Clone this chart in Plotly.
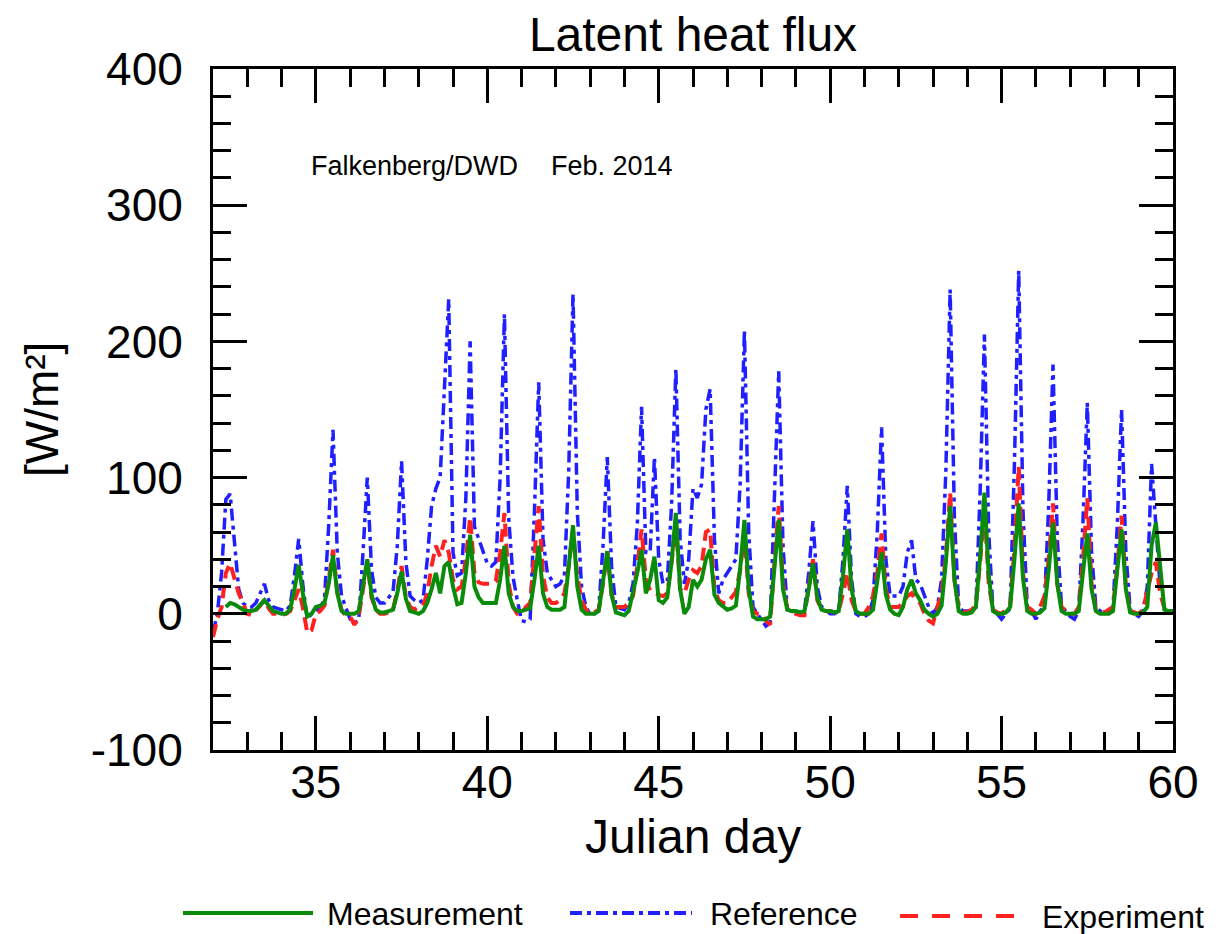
import numpy as np
import plotly.graph_objects as go

# ---------------- data ----------------
# Julian days covered; 8 samples per day (every 3 hours)
DAYS = list(range(32, 60))
HOURS = [0, 3, 6, 9, 12, 15, 18, 21]
END_DAY = 60.0

nan = None

# Measurement (green, solid) [W/m^2]
MEAS = [
    nan, nan, nan, 5, 8, 7, 5, 3,          # 32
    2, 2, 3, 6, 10, 6, 2, 1,               # 33
    0, 0, 3, 18, 36, 14, -2, 0,            # 34
    5, 6, 8, 22, 43, 15, 2, 0,             # 35
    0, 0, 2, 20, 40, 14, 3, 1,             # 36
    1, 2, 3, 15, 31, 11, 2, 1,             # 37
    0, 2, 8, 18, 30, 15, 35, 38,           # 38
    20, 7, 8, 30, 58, 20, 12, 8,           # 39
    8, 8, 8, 25, 50, 15, 5, 2,             # 40
    2, 3, 4, 25, 50, 15, 5, 3,             # 41
    3, 3, 5, 32, 65, 20, 3, 0,             # 42
    0, 0, 2, 22, 46, 14, 1, 0,             # 43
    -1, 2, 15, 30, 47, 15, 25, 42,         # 44
    10, 8, 12, 38, 74, 18, 0, 5,           # 45
    25, 20, 25, 40, 47, 14, 8, 5,          # 46
    3, 4, 6, 33, 69, 18, -2, -4,           # 47
    -4, -4, -2, 33, 69, 18, 3, 2,          # 48
    2, 1, 2, 18, 37, 12, 3, 2,             # 49
    2, 1, 2, 28, 62, 18, 2, 0,             # 50
    0, 0, 3, 22, 45, 14, 3, 0,             # 51
    -1, 5, 18, 25, 15, 10, 3, 0,           # 52
    -2, 0, 6, 38, 79, 25, 2, 0,            # 53
    0, 1, 5, 42, 89, 28, 2, 0,             # 54
    0, 1, 5, 40, 81, 26, 2, 0,             # 55
    0, 1, 4, 32, 67, 22, 2, 0,             # 56
    0, 0, 2, 28, 59, 18, 2, 0,             # 57
    0, 0, 2, 30, 62, 18, 1, 0,             # 58
    0, 1, 5, 50, 67, 35, 3, 2,             # 59
    2,                                     # 60.0
]

# Reference (blue, dash-dot) [W/m^2]
REF = [
    -14, 0, 30, 84, 88, 54, 18, 8,         # 32
    5, 5, 8, 15, 22, 10, 5, 4,             # 33
    3, 2, 6, 28, 55, 20, -4, 0,            # 34
    2, 5, 10, 65, 135, 45, 13, 5,          # 35
    -4, -7, -5, 45, 100, 32, 12, 8,        # 36
    8, 12, 16, 50, 112, 38, 13, 10,        # 37
    8, 10, 40, 79, 92, 100, 170, 231,      # 38
    45, 28, 30, 85, 200, 64, 55, 45,       # 39
    37, 35, 38, 100, 220, 70, 27, 10,      # 40
    -5, -6, -4, 75, 170, 55, 30, 25,       # 41
    20, 22, 28, 105, 235, 75, 20, 5,       # 42
    0, 0, 3, 50, 115, 35, 5, 4,            # 43
    3, 8, 22, 65, 152, 45, 45, 115,        # 44
    40, 22, 24, 80, 180, 55, 22, 40,       # 45
    92, 85, 95, 150, 165, 55, 15, 25,      # 46
    30, 35, 40, 95, 208, 60, 5, 0,         # 47
    -5, -9, -7, 80, 178, 50, 3, 2,         # 48
    0, 0, 2, 30, 68, 20, 5, 3,             # 49
    0, 0, 2, 40, 94, 25, 0, -2,            # 50
    -2, 0, 10, 60, 137, 40, 13, 13,        # 51
    13, 20, 45, 54, 25, 22, 13, 5,         # 52
    0, 5, 25, 105, 238, 70, 5, 2,          # 53
    2, 2, 3, 90, 205, 60, 2, 0,            # 54
    -4, 0, 4, 110, 252, 75, 5, 2,          # 55
    -4, 2, 6, 80, 183, 55, 5, 2,           # 56
    -2, -4, 2, 68, 155, 45, 5, 2,          # 57
    0, 2, 4, 65, 150, 45, 3, 0,            # 58
    -2, 2, 20, 110, 60, 20, nan, nan,      # 59
    nan,                                   # 60.0
]

# Experiment (red, dashed) [W/m^2]
EXP = [
    -17, -4, 5, 30, 37, 25, 15, 8,         # 32
    0, -1, 2, 6, 10, 4, 0, 0,              # 33
    -1, 0, 2, 10, 18, 4, -14, -12,         # 34
    0, 2, 6, 25, 47, 16, 3, -2,            # 35
    -2, -8, -2, 18, 37, 12, 3, 0,          # 36
    0, 1, 3, 17, 35, 12, 5, 3,             # 37
    5, 6, 15, 35, 50, 42, 54, 45,          # 38
    25, 18, 20, 40, 71, 30, 23, 22,        # 39
    22, 22, 24, 45, 74, 22, 5, 0,          # 40
    0, 5, 8, 40, 79, 28, 12, 8,            # 41
    8, 10, 15, 35, 62, 28, 10, 3,          # 42
    0, 1, 3, 22, 46, 14, 5, 5,             # 43
    5, 8, 13, 35, 62, 25, 17, 15,          # 44
    14, 13, 15, 38, 67, 18, 15, 25,        # 45
    32, 30, 35, 60, 62, 18, 10, 8,         # 46
    8, 12, 16, 32, 59, 15, 2, 0,           # 47
    0, -5, -8, 38, 79, 22, 4, 1,           # 48
    0, -1, -1, 20, 40, 10, 3, 2,           # 49
    2, 1, 2, 15, 30, 10, 2, 0,             # 50
    0, 5, 13, 30, 59, 18, 5, 5,            # 51
    5, 8, 13, 15, 10, 8, 0, -5,            # 52
    -7, 5, 15, 42, 89, 25, 5, 2,           # 53
    1, 3, 6, 38, 79, 22, 3, 1,             # 54
    0, 3, 6, 48, 108, 30, 5, 3,            # 55
    0, 5, 13, 40, 81, 22, 5, 2,            # 56
    0, 0, 5, 40, 85, 22, 3, 2,             # 57
    1, 3, 5, 35, 72, 20, 2, 1,             # 58
    0, 3, 18, 30, 38, 15, 4, 4,            # 59
    4,                                     # 60.0
]

SERIES_NAMES = ["Measurement", "Reference", "Experiment"]
TITLE = "Latent heat flux"
XTITLE = "Julian day"
YTITLE = "[W/m²]"
NOTE_LEFT = "Falkenberg/DWD"
NOTE_RIGHT = "Feb. 2014"
X_RANGE = [32, 60]
Y_RANGE = [-100, 400]
Y_TICKS = [-100, 0, 100, 200, 300, 400]
Y_TICKTEXT = ["-100", "0", "100", "200", "300", "400"]

# ---------------- figure ----------------
t = [d + h / 24.0 for d in DAYS for h in HOURS] + [END_DAY]

FONT = "Liberation Sans, Arial, Helvetica, sans-serif"
GREEN = "#0a8c0a"
BLUE = "#1f1fff"
RED = "#ff2020"

fig = go.Figure()
fig.add_trace(go.Scatter(x=t, y=REF, mode="lines", name=SERIES_NAMES[1],
                         line=dict(color=BLUE, width=3.5, dash="12px,5px,4px,5px"),
                         connectgaps=False))
fig.add_trace(go.Scatter(x=t, y=EXP, mode="lines", name=SERIES_NAMES[2],
                         line=dict(color=RED, width=4, dash="13px,7px"),
                         connectgaps=False))
fig.add_trace(go.Scatter(x=t, y=MEAS, mode="lines", name=SERIES_NAMES[0],
                         line=dict(color=GREEN, width=4),
                         connectgaps=False))

L, R, T, B = 213, 45, 69, 184
W, H = 1218, 934
PW, PH = W - L - R, H - T - B

def px(xp):
    return (xp - L) / PW

def py(yp):
    return (H - B - yp) / PH

axis_common = dict(
    showgrid=False, zeroline=False, showline=True, linecolor="black",
    linewidth=3, mirror="ticks", ticks="inside", tickwidth=3,
    tickcolor="black", ticklen=34,
    tickfont=dict(family=FONT, size=46, color="black"),
)

fig.update_xaxes(range=X_RANGE, tick0=0, dtick=5,
                 minor=dict(dtick=1, ticklen=18, tickwidth=3, tickcolor="black",
                            ticks="inside", showgrid=False),
                 ticklabelstandoff=-10,
                 **axis_common)
fig.update_yaxes(range=Y_RANGE, tickmode="array", tickvals=Y_TICKS,
                 ticktext=Y_TICKTEXT,
                 minor=dict(dtick=20, tick0=0, ticklen=18, tickwidth=3,
                            tickcolor="black", ticks="inside", showgrid=False),
                 ticklabelstandoff=18,
                 **axis_common)

annotations = [
    dict(x=px(693), y=py(836), xref="paper", yref="paper", text=XTITLE,
         showarrow=False, xanchor="center", yanchor="middle",
         font=dict(family=FONT, size=48, color="black")),
    dict(x=px(42), y=py(410), xref="paper", yref="paper", text=YTITLE,
         showarrow=False, xanchor="center", yanchor="middle", textangle=-90,
         font=dict(family=FONT, size=46, color="black")),
    dict(x=px(309), y=py(166), xref="paper", yref="paper", text=NOTE_LEFT,
         showarrow=False, xanchor="left", yanchor="middle",
         font=dict(family=FONT, size=27, color="black")),
    dict(x=px(549), y=py(166), xref="paper", yref="paper", text=NOTE_RIGHT,
         showarrow=False, xanchor="left", yanchor="middle",
         font=dict(family=FONT, size=27, color="black")),
]

# manual legend below the plot (long line samples as in the reference)
legend_items = [
    (SERIES_NAMES[0], GREEN, "solid", 183, 313, 325, 913),
    (SERIES_NAMES[1], BLUE, "12px,5px,4px,5px", 570, 692, 708, 913),
    (SERIES_NAMES[2], RED, "18px,14px", 900, 1020, 1040, 916),
]
shapes = []
for name, col, dash, x0, x1, xt, yl in legend_items:
    shapes.append(dict(type="line", xref="paper", yref="paper",
                       x0=px(x0), x1=px(x1), y0=py(yl), y1=py(yl),
                       line=dict(color=col, width=4, dash=dash)))
    annotations.append(dict(x=px(xt), y=py(yl + 1), xref="paper", yref="paper",
                            text=name, showarrow=False, xanchor="left",
                            yanchor="middle",
                            font=dict(family=FONT, size=32, color="black")))

fig.update_layout(
    width=W, height=H,
    margin=dict(l=L, r=R, t=T, b=B, pad=0),
    paper_bgcolor="white", plot_bgcolor="white",
    showlegend=False,
    title=dict(text=TITLE, x=0.5 * (L + W - R) / W, xanchor="center",
               y=1 - 34 / H, yanchor="middle", yref="container",
               font=dict(family=FONT, size=48, color="black")),
    annotations=annotations,
    shapes=shapes,
)

fig.write_html("out.html",
               config={"displayModeBar": False},
               post_script="document.body.style.margin='0';"
                           "document.body.style.overflow='hidden';")
